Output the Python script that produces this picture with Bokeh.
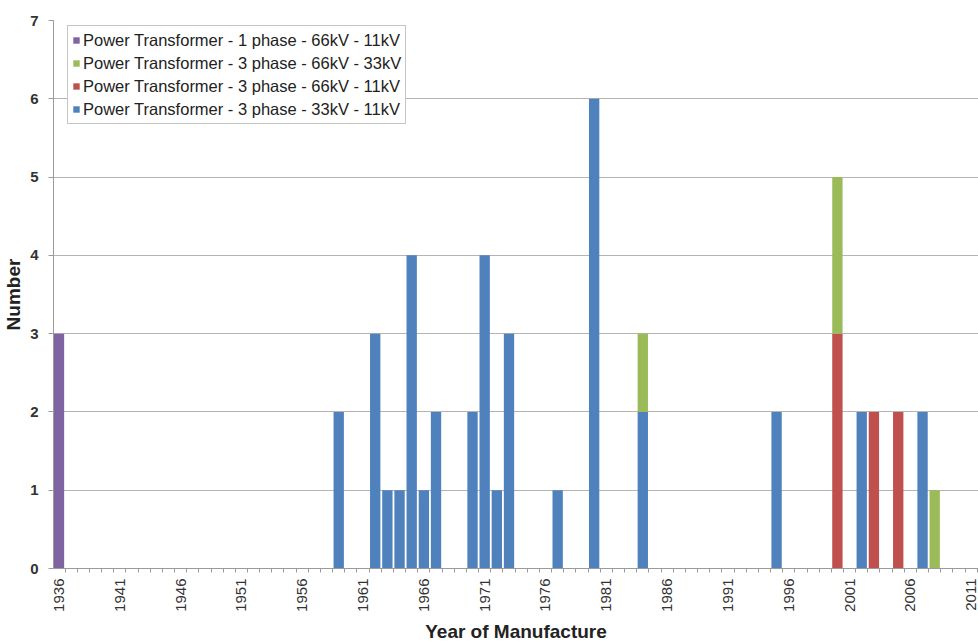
import math
from bokeh.plotting import figure
from bokeh.models import ColumnDataSource, FixedTicker, Range1d, Legend, LegendItem
from bokeh.embed import file_html
from bokeh.resources import INLINE

years = [1936, 1959, 1962, 1963, 1964, 1965, 1966, 1967, 1970, 1971, 1972,
         1973, 1977, 1980, 1984, 1995, 2000, 2002, 2003, 2005, 2007, 2008]
pt_1ph_66_11 = [3, 0, 0, 0, 0, 0, 0, 0, 0, 0, 0, 0, 0, 0, 0, 0, 0, 0, 0, 0, 0, 0]
pt_3ph_66_33 = [0, 0, 0, 0, 0, 0, 0, 0, 0, 0, 0, 0, 0, 0, 1, 0, 2, 0, 0, 0, 0, 1]
pt_3ph_66_11 = [0, 0, 0, 0, 0, 0, 0, 0, 0, 0, 0, 0, 0, 0, 0, 0, 3, 0, 2, 2, 0, 0]
pt_3ph_33_11 = [0, 2, 3, 1, 1, 4, 1, 2, 2, 4, 1, 3, 1, 6, 2, 2, 0, 2, 0, 0, 2, 0]

series_names = ["Power Transformer - 1 phase - 66kV - 11kV",
                "Power Transformer - 3 phase - 66kV - 33kV",
                "Power Transformer - 3 phase - 66kV - 11kV",
                "Power Transformer - 3 phase - 33kV - 11kV"]
series_colors = ["#8064A2", "#9BBB59", "#C0504D", "#4F81BD"]

tick_years = list(range(1936, 2012, 5))
first_year, last_year = 1936, 2011

source = ColumnDataSource(dict(year=years, s1=pt_1ph_66_11, s2=pt_3ph_66_33,
                               s3=pt_3ph_66_11, s4=pt_3ph_33_11))

FONT = "Liberation Sans"

p = figure(width=978, height=644, output_backend="svg", toolbar_location=None,
           x_range=Range1d(first_year - 0.45, last_year + 0.6),
           y_range=Range1d(0, 7),
           min_border_left=52, min_border_right=0, min_border_top=20,
           min_border_bottom=75)
p.outline_line_color = None
p.background_fill_color = "white"
p.border_fill_color = "white"

# stack bottom to top: blue, red, green, purple
stack_keys = ["s4", "s3", "s2", "s1"]
stack_colors = [series_colors[3], series_colors[2], series_colors[1], series_colors[0]]
renderers = p.vbar_stack(stack_keys, x="year", width=0.85, color=stack_colors,
                         line_color=None, source=source)
rmap = dict(zip(stack_keys, renderers))

items = [LegendItem(label=series_names[0], renderers=[rmap["s1"]]),
         LegendItem(label=series_names[1], renderers=[rmap["s2"]]),
         LegendItem(label=series_names[2], renderers=[rmap["s3"]]),
         LegendItem(label=series_names[3], renderers=[rmap["s4"]])]
legend = Legend(items=items, location=(14, 444))
legend.margin = 0
legend.padding = 4
legend.spacing = 3
legend.glyph_width = 8
legend.glyph_height = 8
legend.label_height = 20
legend.label_standoff = 3
legend.label_text_font = FONT
legend.label_text_font_size = "16.5px"
legend.label_text_color = "#222222"
legend.border_line_color = "#8c8c8c"
legend.border_line_width = 1
legend.background_fill_alpha = 1
p.add_layout(legend)

# grid
p.xgrid.grid_line_color = None
p.ygrid.grid_line_color = "#b4b4b4"
p.ygrid.grid_line_width = 1
p.ygrid.ticker = FixedTicker(ticks=[0, 1, 2, 3, 4, 5, 6, 7])

# x axis
p.xaxis.ticker = FixedTicker(ticks=tick_years,
                             minor_ticks=[y + 0.5 for y in range(first_year - 1, last_year + 1)])
p.xaxis.major_label_orientation = math.pi / 2
p.xaxis.major_tick_out = 0
p.xaxis.major_tick_in = 0
p.xaxis.minor_tick_out = 4
p.xaxis.minor_tick_in = 0
p.xaxis.minor_tick_line_color = "#9a9a9a"
p.xaxis.axis_line_color = "#9a9a9a"
p.xaxis.major_label_text_font = FONT
p.xaxis.major_label_text_font_size = "15px"
p.xaxis.major_label_text_color = "#333333"
p.xaxis.major_label_standoff = 6
p.xaxis.axis_label = "Year of Manufacture"
p.xaxis.axis_label_text_font = FONT
p.xaxis.axis_label_text_font_size = "19px"
p.xaxis.axis_label_text_font_style = "bold"
p.xaxis.axis_label_text_color = "#222222"
p.xaxis.axis_label_standoff = 6

# y axis
p.yaxis.ticker = FixedTicker(ticks=[0, 1, 2, 3, 4, 5, 6, 7])
p.yaxis.major_tick_out = 5
p.yaxis.major_tick_in = 0
p.yaxis.minor_tick_line_color = None
p.yaxis.major_tick_line_color = "#9a9a9a"
p.yaxis.axis_line_color = "#9a9a9a"
p.yaxis.major_label_text_font = FONT
p.yaxis.major_label_text_font_size = "15px"
p.yaxis.major_label_text_font_style = "bold"
p.yaxis.major_label_text_color = "#333333"
p.yaxis.major_label_standoff = 10
p.yaxis.axis_label = "Number"
p.yaxis.axis_label_text_font = FONT
p.yaxis.axis_label_text_font_size = "19px"
p.yaxis.axis_label_text_font_style = "bold"
p.yaxis.axis_label_text_color = "#222222"
p.yaxis.axis_label_standoff = 3

open("out.html", "w").write(file_html(p, INLINE))
